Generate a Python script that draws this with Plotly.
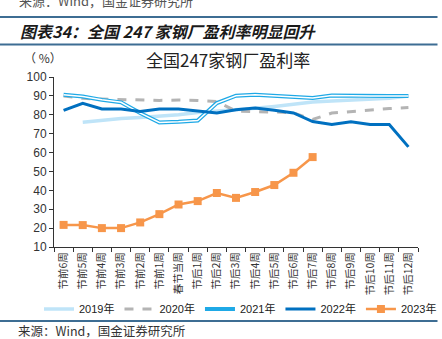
import plotly.graph_objects as go

categories = ["节前6周", "节前5周", "节前4周", "节前3周", "节前2周", "节前1周", "春节当周",
              "节后1周", "节后2周", "节后3周", "节后4周", "节后5周", "节后6周", "节后7周",
              "节后8周", "节后9周", "节后10周", "节后11周", "节后12周"]

y2019 = [None, 76.1, 77.2, 78.0, 78.6, 79.3, 80.0, 81.2, 81.8, 82.4, 83.4, 84.4, 85.8,
         86.8, 87.3, 87.9, 88.3, 88.8, 90.0]
y2020 = [90.0, 88.7, 88.3, 88.0, 87.6, 87.6, 87.8, 87.6, 87.0, 82.0, 81.6, 81.5, 81.0,
         77.5, 80.9, 81.8, 82.6, 83.3, 83.8]
y2021 = [90.6, 89.7, 87.9, 86.6, 80.9, 75.9, 76.3, 77.0, 86.2, 90.1, 90.6, 90.1, 89.7,
         88.9, 90.2, 90.0, 90.0, 90.0, 90.0]
y2022 = [82.3, 86.1, 83.1, 83.0, 81.7, 83.1, 83.0, 81.9, 81.0, 82.7, 83.6, 82.4, 81.0,
         76.4, 74.8, 76.3, 74.8, 74.8, 63.0]
y2023 = [21.7, 21.6, 20.0, 20.0, 23.0, 27.4, 32.5, 34.3, 38.6, 36.0, 39.1, 42.8, 49.3, 57.6]

L, W, T, H = 54, 364, 77, 170


def px_x(px):
    return (px - L) / W


def px_y(py):
    return (T + H - py) / H


fig = go.Figure()
fig.add_trace(go.Scatter(x=categories, y=y2019, mode="lines", name="2019年",
                         line=dict(color="#BFE4F8", width=3.5)))
fig.add_trace(go.Scatter(x=categories, y=y2020, mode="lines", name="2020年",
                         line=dict(color="#B4B4B4", width=3, dash="dash")))
fig.add_trace(go.Scatter(x=categories, y=y2021, mode="lines", name="2021年",
                         line=dict(color="#1FA9E6", width=4)))
fig.add_trace(go.Scatter(x=categories, y=y2021, mode="lines", name="2021年",
                         showlegend=False, hoverinfo="skip",
                         line=dict(color="#FFFFFF", width=1.5)))
fig.add_trace(go.Scatter(x=categories, y=y2022, mode="lines", name="2022年",
                         line=dict(color="#0070C0", width=3)))
fig.add_trace(go.Scatter(x=categories[:len(y2023)], y=y2023, mode="lines+markers", name="2023年",
                         line=dict(color="#F7964A", width=2.5),
                         marker=dict(symbol="square", size=8, color="#F7964A")))

line_color = "#3D6D93"
shapes = []
for py in (17, 44.5, 321):
    shapes.append(dict(type="line", xref="paper", yref="paper",
                       x0=px_x(0), x1=px_x(437.5), y0=px_y(py), y1=px_y(py),
                       line=dict(color=line_color, width=2)))

cjk = "Noto Sans CJK SC"
annotations = [
    dict(text="来源：Wind，国金证券研究所", x=px_x(17), y=px_y(0), xanchor="left", yanchor="middle",
         font=dict(family=cjk, size=13, color="#555555")),
    dict(text="<b><i>图表34：全国 247 家钢厂盈利率明显回升</i></b>", x=px_x(18), y=px_y(31),
         xanchor="left", yanchor="middle", font=dict(family=cjk, size=16, color="#1A1A1A")),
    dict(text="（ %）", x=px_x(22), y=px_y(58), xanchor="left", yanchor="middle",
         font=dict(family=cjk, size=12, color="#333333")),
    dict(text="全国247家钢厂盈利率", x=px_x(227.5), y=px_y(60), xanchor="center", yanchor="middle",
         font=dict(family=cjk, size=17, color="#222222")),
    dict(text="来源：Wind，国金证券研究所", x=px_x(17), y=px_y(330), xanchor="left", yanchor="middle",
         borderpad=0, font=dict(family=cjk, size=12.5, color="#333333")),
]
for a in annotations:
    a.update(xref="paper", yref="paper", showarrow=False)

fig.update_layout(
    width=442, height=339,
    margin=dict(l=L, r=442 - L - W, t=T, b=339 - T - H),
    paper_bgcolor="white", plot_bgcolor="white",
    showlegend=True,
    legend=dict(orientation="h", x=px_x(51), y=px_y(309), xanchor="left", yanchor="middle",
                font=dict(family="Liberation Sans, " + cjk, size=11, color="#222222"),
                itemwidth=30, tracegroupgap=0, bgcolor="rgba(0,0,0,0)"),
    shapes=shapes,
    annotations=annotations,
    font=dict(family="Liberation Sans, " + cjk, color="#333333"),
)
fig.update_xaxes(type="category", categoryorder="array", categoryarray=categories,
                 range=[-0.5, len(categories) - 0.5], tickson="boundaries",
                 ticks="outside", ticklen=4, tickcolor="#333333",
                 showline=True, linecolor="#333333", linewidth=1, showgrid=False,
                 tickangle=-90, tickfont=dict(family=cjk, size=10.5, color="#333333"))
fig.update_yaxes(range=[10, 100], dtick=10, ticks="outside", ticklen=4, tickcolor="#333333",
                 showline=True, linecolor="#333333", linewidth=1, showgrid=False, zeroline=False,
                 tickfont=dict(family="Liberation Sans", size=12, color="#333333"))

fig.write_html("out.html")
